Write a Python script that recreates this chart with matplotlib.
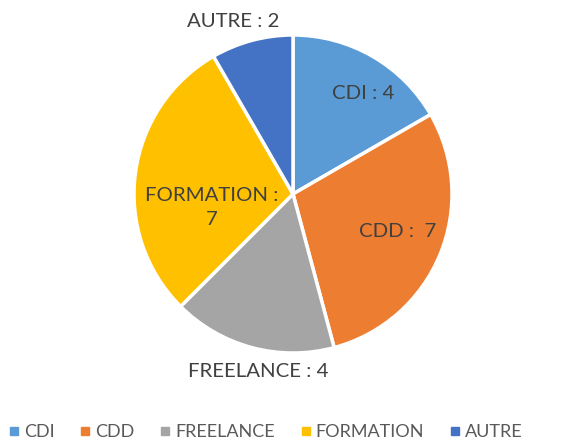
import numpy as np
import matplotlib.pyplot as plt
from matplotlib.lines import Line2D

plt.rcParams['font.family'] = ['Lato', 'DejaVu Sans']

categories = ['CDI', 'CDD', 'FREELANCE', 'FORMATION', 'AUTRE']
values = [4, 7, 4, 7, 2]
label_texts = ['CDI : 4', 'CDD :  7', 'FREELANCE : 4', 'FORMATION :\n7', 'AUTRE : 2']
colors = ['#5B9BD5', '#ED7D31', '#A5A5A5', '#FFC000', '#4472C4']
label_dist = [0.77, 0.70, 1.14, 0.52, 1.15]
label_shift = [-5, 3, 4, 17, 4]  # degrees

W, H = 588, 446
fig = plt.figure(figsize=(W / 100, H / 100), dpi=100)
cx, cy, r = 293, 194, 159
ax = fig.add_axes([(cx - r) / W, (H - cy - r) / H, 2 * r / W, 2 * r / H])

wedges, _ = ax.pie(values, colors=colors, startangle=90, counterclock=False,
                   radius=1, wedgeprops=dict(edgecolor='white', linewidth=2.5))
ax.set_xlim(-1, 1)
ax.set_ylim(-1, 1)
ax.set_aspect('equal')
ax.axis('off')

for w, txt, d, sh in zip(wedges, label_texts, label_dist, label_shift):
    ang = np.deg2rad((w.theta1 + w.theta2) / 2 + sh)
    ax.text(d * np.cos(ang), d * np.sin(ang), txt, ha='center', va='center',
            fontsize=14.7, color='#404040', linespacing=1.45)

handles = [Line2D([], [], marker='s', linestyle='none', color=c, markersize=5.5)
           for c in colors]
fig.legend(handles, categories, loc='center', bbox_to_anchor=(266 / W, 1 - 432 / H),
           ncol=5, frameon=False, fontsize=13, labelcolor='#595959',
           handletextpad=0.3, columnspacing=1.45, handlelength=0.5)

fig.savefig('out.png', dpi=100)
